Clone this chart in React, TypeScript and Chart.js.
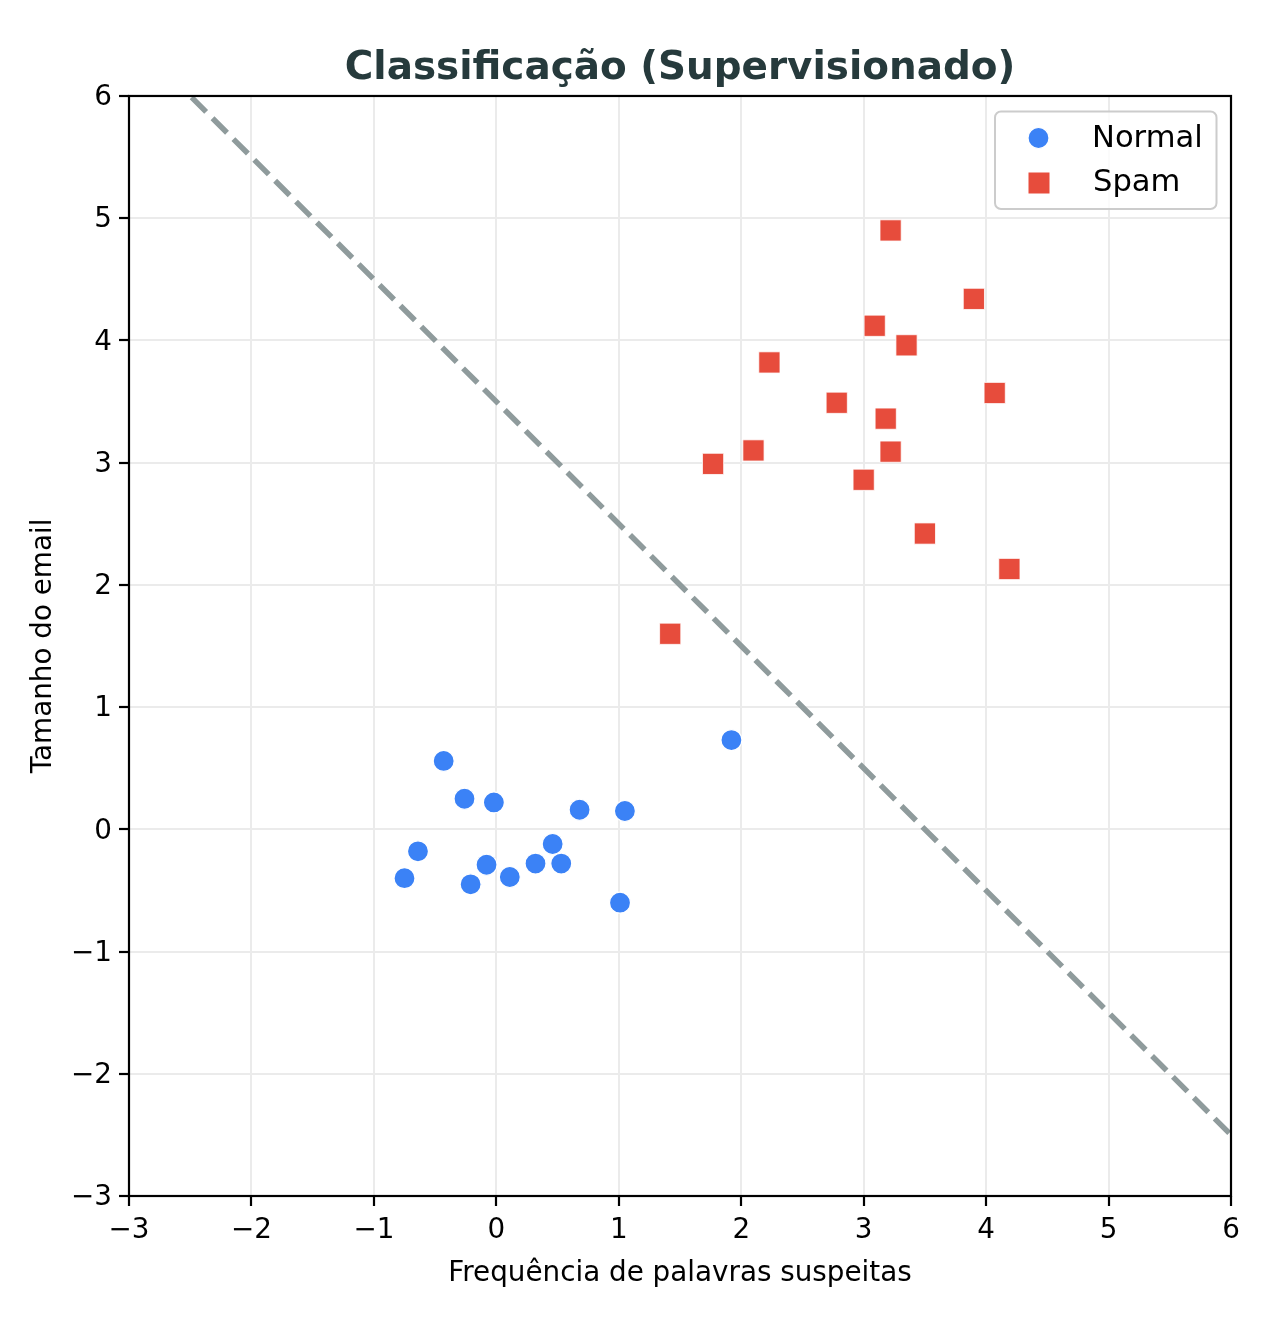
import React, { useEffect, useRef } from "react";
import { Chart, registerables } from "chart.js";

Chart.register(...registerables);

const normalX = [-0.43, -0.26, -0.02, -0.64, -0.75, -0.21, -0.08, 0.11, 0.32, 0.46, 0.53, 0.68, 1.05, 1.01, 1.92];
const normalY = [0.56, 0.25, 0.22, -0.18, -0.40, -0.45, -0.29, -0.39, -0.28, -0.12, -0.28, 0.16, 0.15, -0.60, 0.73];
const spamX = [3.22, 3.90, 3.09, 3.35, 2.23, 4.07, 2.78, 3.18, 2.10, 3.22, 1.77, 3.00, 3.50, 4.19, 1.42];
const spamY = [4.90, 4.34, 4.12, 3.96, 3.82, 3.57, 3.49, 3.36, 3.10, 3.09, 2.99, 2.86, 2.42, 2.13, 1.60];
const boundaryX = [-3, 6];
const boundaryY = [6.5, -2.5];
const xTicks = [-3, -2, -1, 0, 1, 2, 3, 4, 5, 6];
const yTicks = [-3, -2, -1, 0, 1, 2, 3, 4, 5, 6];
const seriesNames = ["Normal", "Spam"];

const BLUE = "#3b82f6";
const RED = "#e74c3c";
const FONT = "'DejaVu Sans', sans-serif";

const fmt = (v: number) => (v < 0 ? "\u2212" + Math.abs(v) : String(v));

const framePlugin = {
  id: "frameLegend",
  afterDraw(chart: any) {
    const { ctx, chartArea } = chart;
    ctx.save();
    // frame
    ctx.strokeStyle = "#000";
    ctx.lineWidth = 2.2;
    ctx.strokeRect(chartArea.left, chartArea.top, chartArea.right - chartArea.left, chartArea.bottom - chartArea.top);
    // legend box
    const bx = 995, by = 111.5, bw = 221.5, bh = 97.5, r = 6;
    ctx.beginPath();
    ctx.moveTo(bx + r, by);
    ctx.lineTo(bx + bw - r, by);
    ctx.arcTo(bx + bw, by, bx + bw, by + r, r);
    ctx.lineTo(bx + bw, by + bh - r);
    ctx.arcTo(bx + bw, by + bh, bx + bw - r, by + bh, r);
    ctx.lineTo(bx + r, by + bh);
    ctx.arcTo(bx, by + bh, bx, by + bh - r, r);
    ctx.lineTo(bx, by + r);
    ctx.arcTo(bx, by, bx + r, by, r);
    ctx.closePath();
    ctx.fillStyle = "rgba(255,255,255,0.8)";
    ctx.fill();
    ctx.strokeStyle = "#cccccc";
    ctx.lineWidth = 2;
    ctx.stroke();
    // markers
    ctx.beginPath();
    ctx.arc(1038.5, 138, 10.5, 0, Math.PI * 2);
    ctx.fillStyle = BLUE;
    ctx.fill();
    ctx.strokeStyle = "#fff";
    ctx.lineWidth = 1.2;
    ctx.stroke();
    ctx.fillStyle = RED;
    ctx.fillRect(1028.5, 172.5, 21, 21);
    // text
    ctx.fillStyle = "#000";
    ctx.font = `30.6px ${FONT}`;
    ctx.textBaseline = "alphabetic";
    ctx.textAlign = "left";
    ctx.fillText(seriesNames[0], 1092, 146.7);
    ctx.fillText(seriesNames[1], 1093, 190.7);
    ctx.restore();
  },
};

export default function App() {
  const ref = useRef<HTMLCanvasElement | null>(null);
  useEffect(() => {
    document.body.style.margin = "0";
    const canvas = ref.current;
    if (!canvas) return;
    const chart = new Chart(canvas, {
      type: "scatter",
      data: {
        datasets: [
          {
            label: seriesNames[0],
            data: normalX.map((x, i) => ({ x, y: normalY[i] })),
            backgroundColor: BLUE,
            borderColor: "#ffffff",
            borderWidth: 1.2,
            pointRadius: 10.5,
            pointStyle: "circle",
            order: 1,
          },
          {
            label: seriesNames[1],
            data: spamX.map((x, i) => ({ x, y: spamY[i] })),
            backgroundColor: RED,
            borderColor: "#ffffff",
            borderWidth: 0.8,
            pointRadius: 15,
            pointStyle: "rect",
            order: 2,
          },
          {
            label: "boundary",
            data: boundaryX.map((x, i) => ({ x, y: boundaryY[i] })),
            showLine: true,
            borderColor: "#8f9b9c",
            borderWidth: 5.5,
            borderDash: [20.5, 9],
            pointRadius: 0,
            fill: false,
            clip: 0,
            order: 0,
          } as any,
        ],
      },
      options: {
        animation: false,
        responsive: false,
        devicePixelRatio: 1,
        layout: { padding: { left: 0, right: 38, top: 0, bottom: 0 } },
        plugins: {
          legend: { display: false },
          tooltip: { enabled: false },
          title: {
            display: true,
            fullSize: false,
            text: "Classificação (Supervisionado)",
            color: "#263a3c",
            font: { family: FONT, size: 38.9, weight: "bold", lineHeight: 1.2 },
            padding: { top: 45.5, bottom: 3.8 },
          },
        },
        scales: {
          x: {
            type: "linear",
            min: xTicks[0],
            max: xTicks[xTicks.length - 1],
            afterBuildTicks: (s: any) => { s.ticks = xTicks.map((v) => ({ value: v })); },
            afterFit: (s: any) => { s.height = 138; },
            ticks: {
              color: "#000",
              font: { family: FONT, size: 27.8 },
              padding: 8.5,
              callback: (v: any) => fmt(Number(v)),
            },
            grid: { color: "#ebebeb", lineWidth: 2, tickColor: "#000", tickWidth: 2.2, tickLength: 10 },
            border: { display: false },
            title: {
              display: true,
              text: "Frequência de palavras suspeitas",
              color: "#000",
              font: { family: FONT, size: 27.8, lineHeight: 1.2 },
              padding: { top: 0, bottom: 43.5 },
            },
          },
          y: {
            type: "linear",
            min: yTicks[0],
            max: yTicks[yTicks.length - 1],
            afterBuildTicks: (s: any) => { s.ticks = yTicks.map((v) => ({ value: v })); },
            afterFit: (s: any) => { s.width = 129; },
            ticks: {
              color: "#000",
              font: { family: FONT, size: 27.8 },
              padding: 7,
              labelOffset: 2,
              callback: (v: any) => fmt(Number(v)),
            },
            grid: { color: "#ebebeb", lineWidth: 2, tickColor: "#000", tickWidth: 2.2, tickLength: 10 },
            border: { display: false },
            title: {
              display: true,
              text: "Tamanho do email",
              color: "#000",
              font: { family: FONT, size: 27.8, lineHeight: 1.2 },
              padding: { top: 27, bottom: 0 },
            },
          },
        },
      } as any,
      plugins: [framePlugin],
    });
    return () => chart.destroy();
  }, []);
  return (
    <div style={{ position: "absolute", left: 0, top: 0, width: 1269, height: 1334, background: "#fff" }}>
      <canvas ref={ref} width={1269} height={1334} style={{ width: 1269, height: 1334, display: "block" }} />
    </div>
  );
}
